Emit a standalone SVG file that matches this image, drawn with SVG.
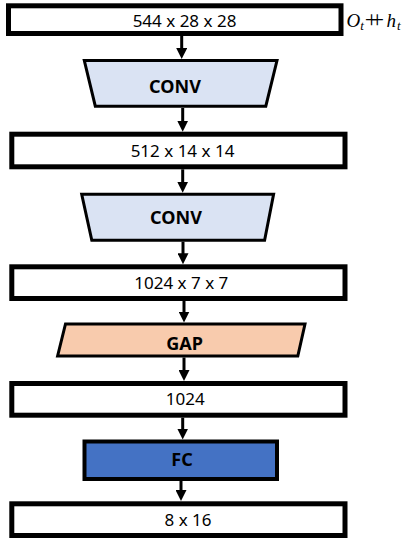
<svg xmlns="http://www.w3.org/2000/svg" width="408" height="539" viewBox="0 0 408 539">
<defs>
<style>
.box{fill:#ffffff;stroke:#000000;stroke-width:5}
.conv{fill:#DAE3F3;stroke:#000000;stroke-width:3;stroke-linejoin:miter}
.gap{fill:#F8CBAD;stroke:#000000;stroke-width:3}
.fc{fill:#4472C4;stroke:#000000;stroke-width:4}
.lbl{font-family:"Noto Sans","Open Sans","Liberation Sans",sans-serif;font-size:17px;fill:#000000;text-anchor:middle}
.bold{font-family:"Noto Sans","Open Sans","Liberation Sans",sans-serif;font-size:18px;font-weight:bold;fill:#000000;text-anchor:middle}
.math{font-family:"Liberation Serif","DejaVu Serif",serif;font-style:italic;fill:#000000;font-size:19px}
.sub{font-size:13px}
.op{font-size:24px;font-style:normal}
.arrow{stroke:#000000;stroke-width:3;fill:none;marker-end:url(#ah)}
</style>
<marker id="ah" markerUnits="userSpaceOnUse" viewBox="0 0 11 11" refX="2" refY="5.5" markerWidth="11" markerHeight="11" orient="auto">
<path d="M0,0 L11,5.5 L0,11 z" fill="#000000"/>
</marker>
</defs>

<g id="connectors">
<line class="arrow" x1="181.7" y1="36" x2="181.7" y2="50"/>
<line class="arrow" x1="182.7" y1="108" x2="182.7" y2="122.7"/>
<line class="arrow" x1="182.7" y1="169.3" x2="182.7" y2="183.7"/>
<line class="arrow" x1="183" y1="241.7" x2="183" y2="255.3"/>
<line class="arrow" x1="184" y1="301" x2="184" y2="313.5"/>
<line class="arrow" x1="184" y1="357.5" x2="184" y2="372"/>
<line class="arrow" x1="182.7" y1="417.7" x2="182.7" y2="430.5"/>
<line class="arrow" x1="181" y1="481" x2="181" y2="492"/>
</g>

<g id="input">
<rect class="box" x="8.5" y="5.8" width="332.5" height="27.7"/>
<text class="lbl" x="184.5" y="26.5">544 x 28 x 28</text>
</g>

<g id="input-label">
<text class="math" x="346.5" y="26.7">O<tspan class="sub" dy="3.3">t</tspan><tspan class="op" dx="1" dy="-3.5" letter-spacing="-8">++</tspan><tspan dx="10.5" dy="0.2">h</tspan><tspan class="sub" dx="1" dy="3.3">t</tspan></text>
</g>

<g id="conv1">
<polygon class="conv" points="84.3,60.5 277,60.5 265.8,106.2 95.3,106.2"/>
<text class="bold" x="175" y="93.3">CONV</text>
</g>

<g id="feat1">
<rect class="box" x="11.8" y="134.2" width="333.2" height="32.6"/>
<text class="lbl" x="182.5" y="157.3">512 x 14 x 14</text>
</g>

<g id="conv2">
<polygon class="conv" points="81.7,194.2 273.6,194.2 264.6,240.2 91.8,240.2"/>
<text class="bold" x="176" y="224">CONV</text>
</g>

<g id="feat2">
<rect class="box" x="11.8" y="266.8" width="333.2" height="31.7"/>
<text class="lbl" x="181.3" y="289">1024 x 7 x 7</text>
</g>

<g id="gap">
<polygon class="gap" points="65.5,324 305,324 297.8,356 57.6,356"/>
<text class="bold" x="184.5" y="350">GAP</text>
</g>

<g id="vec">
<rect class="box" x="11.8" y="383.5" width="333.2" height="31.7"/>
<text class="lbl" x="185.3" y="405.3">1024</text>
</g>

<g id="fc">
<rect class="fc" x="84.5" y="441.5" width="192.5" height="37.5"/>
<text class="bold" x="182" y="465.7">FC</text>
</g>

<g id="output">
<rect class="box" x="11.8" y="503.8" width="333.2" height="31.7"/>
<text class="lbl" x="188" y="526">8 x 16</text>
</g>
</svg>
